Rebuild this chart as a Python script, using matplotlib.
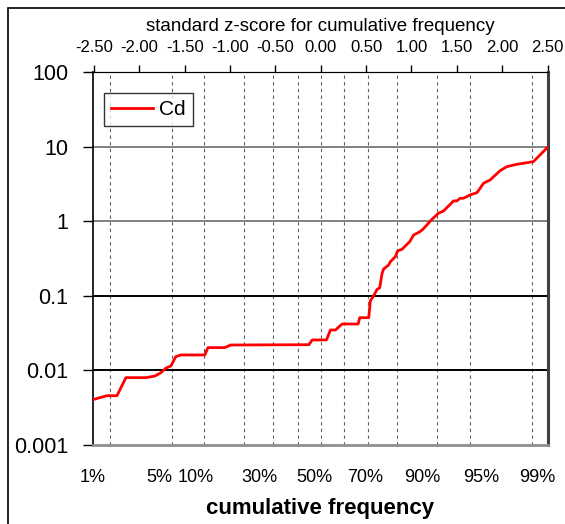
import numpy as np
import matplotlib.pyplot as plt
from matplotlib.patches import Rectangle

plt.rcParams['font.family'] = ['Liberation Sans', 'DejaVu Sans']

# Cd curve: z-score of cumulative frequency vs concentration
z_score = [-2.50, -2.357, -2.247, -2.148, -1.928, -1.829, -1.763, -1.708, -1.653,
           -1.598, -1.543, -1.279, -1.243, -1.059, -0.993, -0.131, -0.094, 0.063,
           0.107, 0.162, 0.236, 0.412, 0.430, 0.529, 0.547, 0.577, 0.621, 0.650,
           0.676, 0.694, 0.749, 0.767, 0.822, 0.848, 0.896, 0.943, 0.980, 1.024,
           1.090, 1.126, 1.226, 1.299, 1.354, 1.409, 1.464, 1.500, 1.537, 1.574,
           1.647, 1.721, 1.757, 1.794, 1.867, 1.977, 2.051, 2.161, 2.344, 2.509]
cd = [0.0041, 0.00458, 0.00458, 0.0080, 0.0080, 0.0084, 0.0093, 0.0107, 0.01146,
      0.0153, 0.0161, 0.0161, 0.0202, 0.0202, 0.0219, 0.0221, 0.0256, 0.0256,
      0.0348, 0.0348, 0.0419, 0.0419, 0.0509, 0.0509, 0.086, 0.097, 0.122, 0.128,
      0.200, 0.229, 0.259, 0.286, 0.334, 0.40, 0.42, 0.48, 0.53, 0.653,
      0.72, 0.778, 1.06, 1.28, 1.37, 1.60, 1.87, 1.87, 2.03, 2.03,
      2.25, 2.41, 2.76, 3.22, 3.57, 4.75, 5.38, 5.79, 6.28, 10.0]

# percentile gridlines (as z-scores)
grid_pct = [1, 5, 10, 20, 30, 40, 50, 60, 70, 80, 90, 95, 99]
grid_z = [-2.326, -1.645, -1.282, -0.842, -0.524, -0.253, 0.0, 0.253, 0.524,
          0.842, 1.282, 1.645, 2.326]

# bottom labels (Excel placed them slightly off the gridlines)
pct_labels = ['1%', '5%', '10%', '30%', '50%', '70%', '90%', '95%', '99%']
pct_label_z = [-2.511, -1.785, -1.378, -0.674, -0.069, 0.492, 1.119, 1.768, 2.384]

top_z = np.arange(-2.5, 2.51, 0.5)

fig = plt.figure(figsize=(5.65, 5.24), dpi=100)
fig.patches.append(Rectangle((8 / 565, -0.1), 1.2, 1 - 8 / 524 + 0.1,
                             transform=fig.transFigure, fill=False,
                             edgecolor='black', lw=1.2))
ax = fig.add_axes([93 / 565, 1 - 445 / 524, (547.5 - 93) / 565, (445 - 72) / 524])

for gz in grid_z:
    ax.axvline(gz, color='#606060', lw=0.8, ls=(0, (3, 3)), zorder=1)
for yv, col in [(10, '#808080'), (1, '#808080'), (0.1, 'black'), (0.01, 'black')]:
    ax.axhline(yv, color=col, lw=1.4, zorder=1)

ax.plot(z_score, cd, color='#ff0000', lw=2, label='Cd', zorder=3)

ax.set_yscale('log')
ax.set_ylim(0.001, 100)
ax.set_xlim(-2.5, 2.5)
ax.set_yticks([0.001, 0.01, 0.1, 1, 10, 100])
ax.set_yticklabels(['0.001', '0.01', '0.1', '1', '10', '100'])
ax.yaxis.set_minor_locator(plt.NullLocator())
ax.tick_params(axis='y', labelsize=15.5, length=7, width=1, direction='out', pad=11)

ax.set_xticks(pct_label_z)
ax.set_xticklabels(pct_labels)
ax.tick_params(axis='x', labelsize=13, length=0, pad=17)
ax.set_xlabel('cumulative frequency', fontsize=16, fontweight='bold', labelpad=9)

sec = ax.secondary_xaxis('top')
sec.set_xticks(top_z)
sec.set_xticklabels(['%.2f' % v for v in top_z])
sec.tick_params(labelsize=12, length=5, width=1, direction='out', pad=7)
sec.set_xlabel('standard z-score for cumulative frequency', fontsize=13.5, labelpad=7)
sec.spines['top'].set_color('black')

ax.spines['left'].set_color('black')
ax.spines['left'].set_linewidth(1.2)
ax.spines['top'].set_color('black')
ax.spines['right'].set_color('#404040')
ax.spines['right'].set_linewidth(2.2)
ax.spines['bottom'].set_color('#909090')
ax.spines['bottom'].set_linewidth(2)

leg = ax.legend(loc='upper left', bbox_to_anchor=(0.024, 0.945), fontsize=15,
                frameon=True, fancybox=False, edgecolor='black', handlelength=2.0,
                borderpad=0.35, handletextpad=0.3, borderaxespad=0)
leg.get_frame().set_linewidth(1)

fig.savefig('out.png', dpi=100)
